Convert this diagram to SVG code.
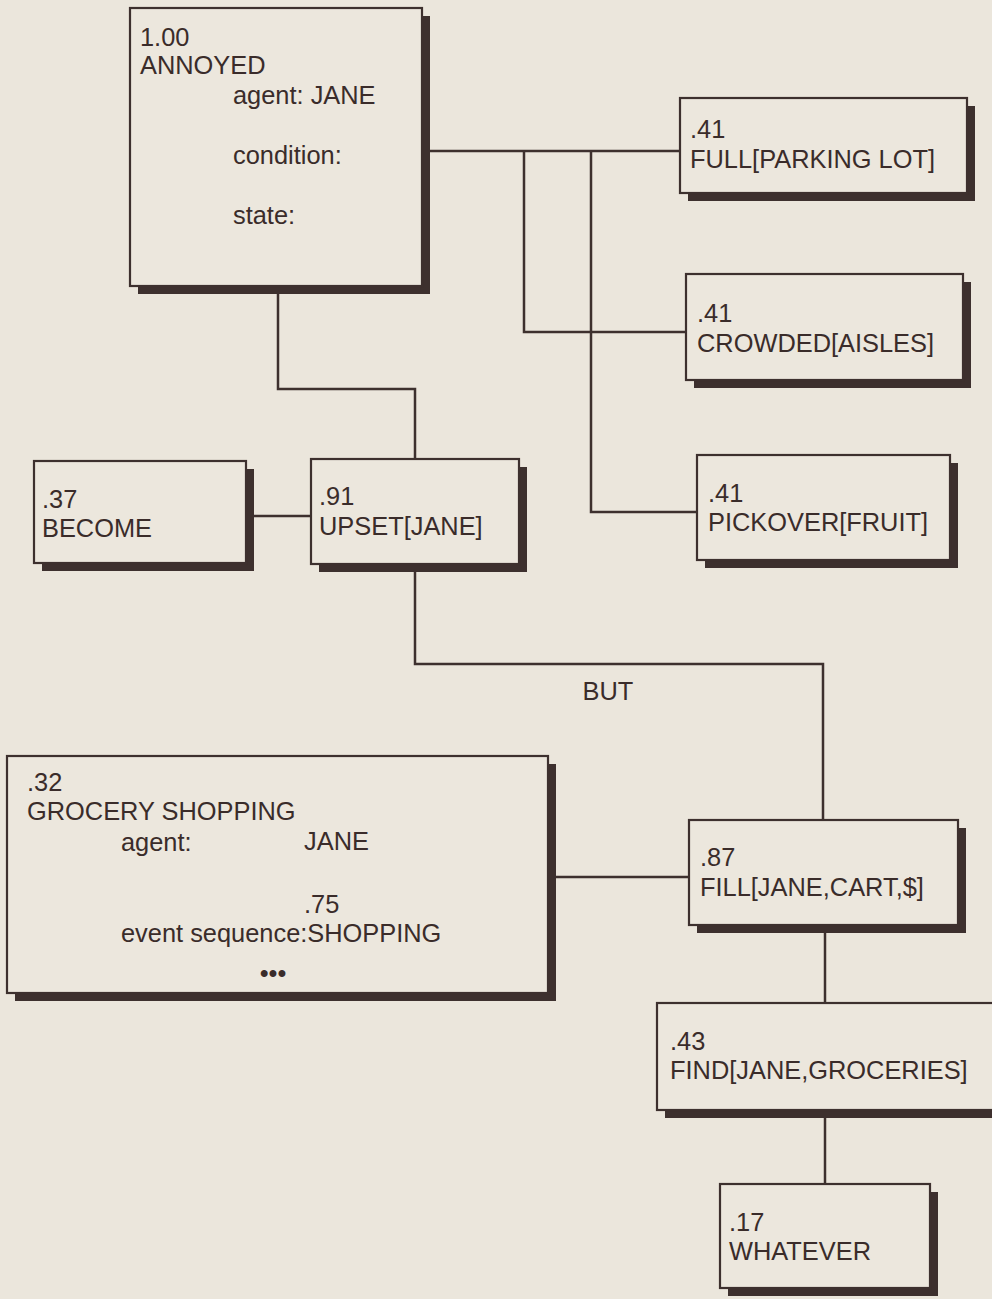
<svg xmlns="http://www.w3.org/2000/svg" width="992" height="1299" viewBox="0 0 992 1299">
  <defs>
    <style>
      .bg { fill: #ebe6dc; }
      .shadow { fill: #3d302e; }
      .box { fill: #ece7dd; stroke: #3d302e; stroke-width: 2.2; }
      .wire { fill: none; stroke: #3d302e; stroke-width: 2.5; }
      text { font-family: "Liberation Sans", Arial, sans-serif; font-size: 25.4px; fill: #3a2c2a; }
    </style>
  </defs>
  <rect class="bg" x="0" y="0" width="992" height="1299"/>

  <!-- connectors -->
  <g id="connectors">
    <polyline class="wire" points="430,151 680,151"/>
    <polyline class="wire" points="524,151 524,332 686,332"/>
    <polyline class="wire" points="591,151 591,512 697,512"/>
    <polyline class="wire" points="278,293 278,389 415,389 415,459"/>
    <polyline class="wire" points="254,516 311,516"/>
    <polyline class="wire" points="415,572 415,664 823,664 823,820"/>
    <polyline class="wire" points="556,877 689,877"/>
    <polyline class="wire" points="825,933 825,1003"/>
    <polyline class="wire" points="825,1117 825,1184"/>
    <text x="608" y="700" text-anchor="middle">BUT</text>
  </g>

  <!-- ANNOYED frame -->
  <g id="annoyed">
    <rect class="shadow" x="138" y="16" width="292" height="278"/>
    <rect class="box" x="130" y="8" width="292" height="278"/>
    <text x="140" y="46">1.00</text>
    <text x="140" y="74">ANNOYED</text>
    <text x="233" y="104">agent: JANE</text>
    <text x="233" y="164">condition:</text>
    <text x="233" y="224">state:</text>
  </g>

  <g id="full">
    <rect class="shadow" x="688" y="106" width="287" height="95"/>
    <rect class="box" x="680" y="98" width="287" height="95"/>
    <text x="690" y="138">.41</text>
    <text x="690" y="168">FULL[PARKING LOT]</text>
  </g>

  <g id="crowded">
    <rect class="shadow" x="694" y="282" width="277" height="106"/>
    <rect class="box" x="686" y="274" width="277" height="106"/>
    <text x="697" y="322">.41</text>
    <text x="697" y="352">CROWDED[AISLES]</text>
  </g>

  <g id="pickover">
    <rect class="shadow" x="705" y="463" width="253" height="105"/>
    <rect class="box" x="697" y="455" width="253" height="105"/>
    <text x="708" y="502">.41</text>
    <text x="708" y="531">PICKOVER[FRUIT]</text>
  </g>

  <g id="become">
    <rect class="shadow" x="42" y="469" width="212" height="102"/>
    <rect class="box" x="34" y="461" width="212" height="102"/>
    <text x="42" y="508">.37</text>
    <text x="42" y="537">BECOME</text>
  </g>

  <g id="upset">
    <rect class="shadow" x="319" y="467" width="208" height="105"/>
    <rect class="box" x="311" y="459" width="208" height="105"/>
    <text x="319" y="505">.91</text>
    <text x="319" y="535">UPSET[JANE]</text>
  </g>

  <g id="grocery-shopping">
    <rect class="shadow" x="15" y="764" width="541" height="237"/>
    <rect class="box" x="7" y="756" width="541" height="237"/>
    <text x="27" y="791">.32</text>
    <text x="27" y="820">GROCERY SHOPPING</text>
    <text x="121" y="851">agent:</text>
    <text x="304" y="850">JANE</text>
    <text x="304" y="913">.75</text>
    <text x="121" y="942">event sequence:SHOPPING</text>
    <text x="273" y="982" text-anchor="middle">•••</text>
  </g>

  <g id="fill">
    <rect class="shadow" x="697" y="828" width="269" height="105"/>
    <rect class="box" x="689" y="820" width="269" height="105"/>
    <text x="700" y="866">.87</text>
    <text x="700" y="896">FILL[JANE,CART,$]</text>
  </g>

  <g id="find">
    <rect class="shadow" x="665" y="1011" width="340" height="107"/>
    <rect class="box" x="657" y="1003" width="345" height="107"/>
    <text x="670" y="1050">.43</text>
    <text x="670" y="1079">FIND[JANE,GROCERIES]</text>
  </g>

  <g id="whatever">
    <rect class="shadow" x="728" y="1192" width="210" height="104"/>
    <rect class="box" x="720" y="1184" width="210" height="104"/>
    <text x="729" y="1231">.17</text>
    <text x="729" y="1260">WHATEVER</text>
  </g>
</svg>
